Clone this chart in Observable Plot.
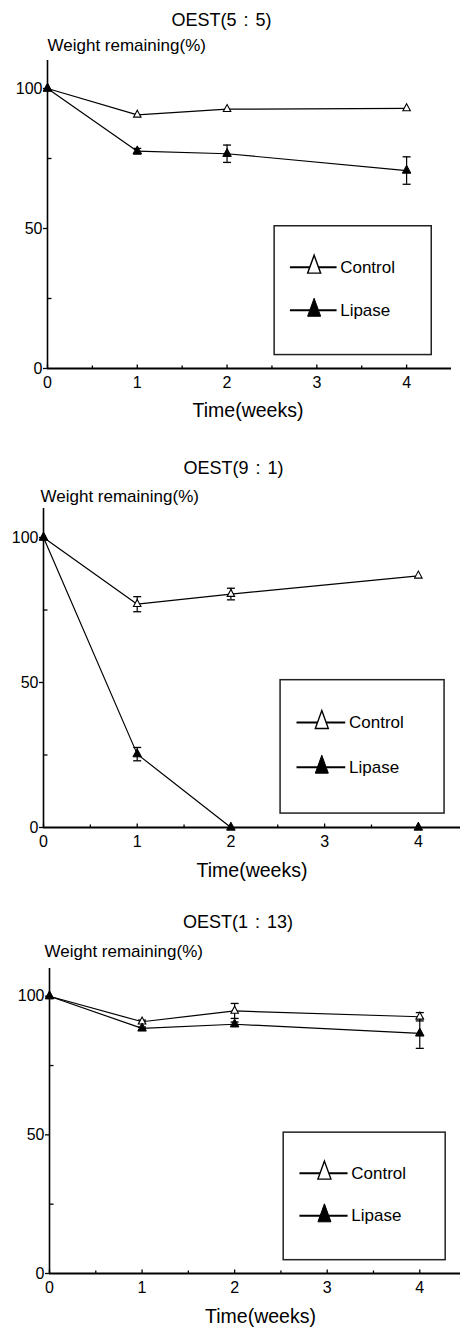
<!DOCTYPE html>
<html>
<head>
<meta charset="utf-8">
<script src="https://cdn.jsdelivr.net/npm/d3@7"></script>
<script src="https://cdn.jsdelivr.net/npm/@observablehq/plot@0.6"></script>
<style>
  html, body { margin: 0; padding: 0; background: #fff; }
  #chart { width: 460px; }
  #chart svg { display: block; }
</style>
</head>
<body>
<div id="chart"></div>
<script>
// ---------- data ----------
const weeks = [0, 1, 2, 4];
const panelTitles = ["OEST(5 : 5)", "OEST(9 : 1)", "OEST(1 : 13)"];
const seriesNames = ["Control", "Lipase"];
const yLabelText = "Weight remaining(%)";
const xLabelText = "Time(weeks)";
const yMajorTicks = [0, 50, 100];
const yMinorTicks = [25, 75];
const xMajorTicks = [0, 1, 2, 3, 4];
const xMinorTicks = [0.5, 1.5, 2.5, 3.5];

// OEST(5:5)
const control55 = [100, 90.6, 92.6, 92.9];
const control55Err = [0, 0, 0, 0];
const lipase55 = [100, 77.6, 76.7, 70.7];
const lipase55Err = [0, 1.0, 3.1, 4.9];
// OEST(9:1)
const control91 = [100, 77.0, 80.5, 86.8];
const control91Err = [0, 2.6, 2.0, 0];
const lipase91 = [100, 25.3, 0, 0];
const lipase91Err = [0, 2.3, 0, 0];
// OEST(1:13)
const control113 = [100, 90.8, 94.7, 92.6];
const control113Err = [0, 0.6, 2.7, 1.5];
const lipase113 = [100, 88.4, 89.9, 86.6];
const lipase113Err = [0, 0.5, 0.8, 5.4];

const controlValues = [control55, control91, control113];
const controlErrors = [control55Err, control91Err, control113Err];
const lipaseValues = [lipase55, lipase91, lipase113];
const lipaseErrors = [lipase55Err, lipase91Err, lipase113Err];

// ---------- layout (not data) ----------
const panelLayout = [
  {height: 440, mt: 60, mb: 72, ml: 47, mr: 9, xMax: 4.5,
   titleDx: -28, titleDy: -40, yLabDx: 0, yLabDy: -15, xLabDx: -1.5, xLabDy: 42},
  {height: 460, mt: 68, mb: 73, ml: 43, mr: 0, xMax: 4.45,
   titleDx: -18.5, titleDy: -40, yLabDx: -3, yLabDy: -12, xLabDx: 0, xLabDy: 43},
  {height: 428, mt: 68, mb: 55, ml: 49, mr: 0, xMax: 4.44,
   titleDx: -17, titleDy: -46, yLabDx: -5, yLabDy: -17, xLabDx: 5.5, xLabDy: 43}
];
const legendBox = {x1: 2.53, x2: 4.28, y1: 4.8, y2: 50.8};
const legendRowY = {Control: 36.2, Lipase: 20.8};
const legendLine = {x1: 2.70, x2: 3.22, marker: 2.97, text: 3.26};

const font = "'Liberation Sans', Arial, Helvetica, sans-serif";

// symbols
const tri = (w, h) => ({
  draw(ctx) {
    ctx.moveTo(0, -2 * h / 3);
    ctx.lineTo(w / 2, h / 3);
    ctx.lineTo(-w / 2, h / 3);
    ctx.closePath();
  }
});
const capSym = {draw(ctx) { ctx.moveTo(-4, 0); ctx.lineTo(4, 0); }};
const tickRight = (l) => ({draw(ctx) { ctx.moveTo(0, 0); ctx.lineTo(l, 0); }});
const tickUp = (l) => ({draw(ctx) { ctx.moveTo(0, 0); ctx.lineTo(0, -l); }});

function makePanel(i) {
  const L = panelLayout[i];
  const rows = (series, vals, errs) =>
    weeks.map((w, j) => ({week: w, v: vals[j], err: errs[j], series}));
  const ctrl = rows(seriesNames[0], controlValues[i], controlErrors[i]);
  const lip = rows(seriesNames[1], lipaseValues[i], lipaseErrors[i]);
  const both = ctrl.concat(lip);
  const errRows = both.filter(d => d.err > 0);
  const legendRows = seriesNames.map(s => ({series: s, y: legendRowY[s]}));

  return Plot.plot({
    width: 460,
    height: L.height,
    marginTop: L.mt,
    marginBottom: L.mb,
    marginLeft: L.ml,
    marginRight: L.mr,
    style: {fontFamily: font, fontSize: "16px", color: "#000", background: "#fff", overflow: "visible"},
    x: {domain: [0, L.xMax], axis: null},
    y: {domain: [0, 110], axis: null},
    marks: [
      // axes lines
      Plot.ruleX([0], {stroke: "#000", strokeWidth: 1.6}),
      Plot.ruleY([0], {stroke: "#000", strokeWidth: 1.8}),
      // y axis labels + outward major ticks
      Plot.axisY({ticks: yMajorTicks, tickSize: 4, tickPadding: 1, label: null,
                  fontSize: 16, tickFormat: d => String(d), stroke: "#000", strokeWidth: 1.3}),
      // minor inward ticks on y axis
      Plot.dot(yMinorTicks, {x: () => 0, y: d => d, symbol: tickRight(4), stroke: "#000", fill: "none", strokeWidth: 1.3}),
      // x axis labels
      Plot.axisX({ticks: xMajorTicks, tickSize: 0, tickPadding: 8, label: null,
                  fontSize: 16, tickFormat: d => String(d)}),
      // x ticks pointing up
      Plot.dot(xMajorTicks, {x: d => d, y: () => 0, symbol: tickUp(4), stroke: "#000", fill: "none", strokeWidth: 1.3}),
      Plot.dot(xMinorTicks, {x: d => d, y: () => 0, symbol: tickUp(3), stroke: "#000", fill: "none", strokeWidth: 1.3}),
      // series lines
      Plot.line(ctrl, {x: "week", y: "v", stroke: "#000", strokeWidth: 1.2}),
      Plot.line(lip, {x: "week", y: "v", stroke: "#000", strokeWidth: 1.2}),
      // error bars
      Plot.ruleX(errRows, {x: "week", y1: d => d.v - d.err, y2: d => d.v + d.err, stroke: "#000", strokeWidth: 1.2}),
      Plot.dot(errRows, {x: "week", y: d => d.v + d.err, symbol: capSym, stroke: "#000", fill: "none", strokeWidth: 1.3}),
      Plot.dot(errRows, {x: "week", y: d => d.v - d.err, symbol: capSym, stroke: "#000", fill: "none", strokeWidth: 1.3}),
      // markers
      Plot.dot(ctrl, {x: "week", y: "v", symbol: tri(7.5, 7), fill: "#fff", stroke: "#000", strokeWidth: 1.1}),
      Plot.dot(lip, {x: "week", y: "v", symbol: tri(8.5, 8), fill: "#000", stroke: "#000", strokeWidth: 1}),
      // legend
      Plot.rect([legendBox], {x1: "x1", x2: "x2", y1: "y1", y2: "y2", fill: "none", stroke: "#222", strokeWidth: 1.5}),
      Plot.link(legendRows, {x1: () => legendLine.x1, x2: () => legendLine.x2, y1: "y", y2: "y", stroke: "#000", strokeWidth: 2}),
      Plot.dot(legendRows.filter(d => d.series === "Control"), {x: () => legendLine.marker, y: "y", symbol: tri(13, 18), fill: "#fff", stroke: "#000", strokeWidth: 1.4}),
      Plot.dot(legendRows.filter(d => d.series === "Lipase"), {x: () => legendLine.marker, y: "y", symbol: tri(13, 18), fill: "#000", stroke: "#000", strokeWidth: 1}),
      Plot.text(legendRows, {x: () => legendLine.text, y: "y", text: "series", textAnchor: "start", lineAnchor: "middle", fontSize: 17, fill: "#000"}),
      // title and axis labels
      Plot.text([panelTitles[i]], {frameAnchor: "top", lineAnchor: "middle", text: d => d, dx: L.titleDx, dy: L.titleDy, fontSize: 18, fill: "#000"}),
      Plot.text([yLabelText], {frameAnchor: "top-left", lineAnchor: "middle", text: d => d, textAnchor: "start", dx: L.yLabDx, dy: L.yLabDy, fontSize: 17, fill: "#000"}),
      Plot.text([xLabelText], {frameAnchor: "bottom", lineAnchor: "middle", text: d => d, dx: L.xLabDx, dy: L.xLabDy, fontSize: 19.5, fill: "#000"})
    ]
  });
}

const root = document.getElementById("chart");
for (let i = 0; i < 3; i++) {
  const svg = makePanel(i);
  svg.querySelectorAll("text").forEach(t => {
    if (t.textContent.startsWith("OEST")) t.style.wordSpacing = "2px";
  });
  root.appendChild(svg);
}
</script>
</body>
</html>
